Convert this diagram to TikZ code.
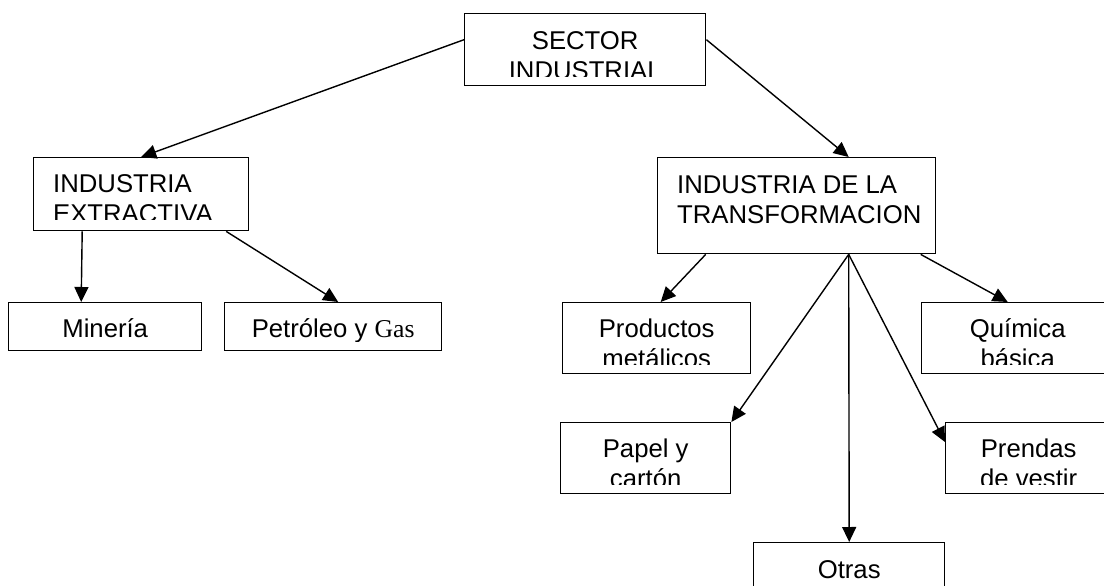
\documentclass[tikz,border=0pt]{standalone}
\usepackage{fontspec}
\setmainfont{Liberation Sans}
\newfontfamily\gasfont{Liberation Serif}
\usetikzlibrary{arrows.meta}

\tikzset{
  caja/.style={draw, line width=1.4pt, inner sep=0pt, anchor=north west},
  texto/.style={inner sep=0pt, font=\fontsize{25.7}{30}\selectfont},
  flecha/.style={-{Triangle[length=15pt,width=14pt]}, line width=1.4pt},
}

% box with centred text, cut off near the bottom edge
\newcommand{\cajac}[7][35]{%
  \node[caja, minimum width=#5pt, minimum height=#6pt] (#2) at (#3,#4) {};
  \begin{scope}
    \clip (#2.north west) rectangle ([yshift=10pt]#2.south east);
    \node[texto, anchor=base] (#2-txt) at ([yshift=-#1pt]#2.north)
      {\begin{tabular}[t]{@{}c@{}}#7\end{tabular}};
  \end{scope}}
% box with left text
\newcommand{\cajal}[7][35]{%
  \node[caja, minimum width=#5pt, minimum height=#6pt] (#2) at (#3,#4) {};
  \begin{scope}
    \clip (#2.north west) rectangle ([yshift=12pt]#2.south east);
    \node[texto, anchor=base west] (#2-txt) at ([xshift=20pt,yshift=-#1pt]#2.north west)
      {\begin{tabular}[t]{@{}l@{}}#7\end{tabular}};
  \end{scope}}

\begin{document}
\begin{tikzpicture}[x=1pt, y=-1pt]
  \useasboundingbox (0,0) rectangle (1104,586);
  \clip (0,0) rectangle (1104,586);

  \cajac[37]{sector}{464}{13}{241}{72}{SECTOR\\INDUSTRIAL}
  \cajal{extract}{33}{157}{215}{73}{INDUSTRIA\\EXTRACTIVA}
  \cajal[36.5]{transf}{657}{157}{278}{96}{INDUSTRIA DE LA\\TRANSFORMACION}
  \cajac{mineria}{8}{302}{193}{48}{Minería}
  \cajac{petroleo}{224}{302}{217}{48}{Petróleo y {\gasfont Gas}}
  \cajac{productos}{562}{302}{188}{71}{Productos\\metálicos}
  \cajac{quimica}{921}{302}{192}{71}{Química\\básica}
  \cajac{papel}{560}{422}{170}{71}{Papel y\\cartón}
  \cajac{prendas}{945}{422}{166}{71}{Prendas\\de vestir}
  \cajac[36.5]{otras}{753}{542}{191}{71}{Otras}

  \coordinate (hub) at ([xshift=52pt]transf.south);

  \draw[flecha] ([yshift=10pt]sector.west) -- (extract.north);
  \draw[flecha] ([yshift=10pt]sector.east) -- ([xshift=52pt]transf.north);
  \draw[flecha] ([xshift=-59pt]extract.south) -- ([xshift=-24pt]mineria.north);
  \draw[flecha] ([xshift=85pt]extract.south) -- ([xshift=5pt]petroleo.north);
  \draw[flecha] ([xshift=-91pt]transf.south) -- ([xshift=4pt]productos.north);
  \draw[flecha] (hub) -- (papel.north east);
  \draw[flecha] (hub) -- (otras.north);
  \draw[flecha] (hub) -- ([yshift=-20pt]prendas.north west);
  \draw[flecha] ([xshift=124pt]transf.south) -- ([xshift=-10pt]quimica.north);
\end{tikzpicture}
\end{document}
